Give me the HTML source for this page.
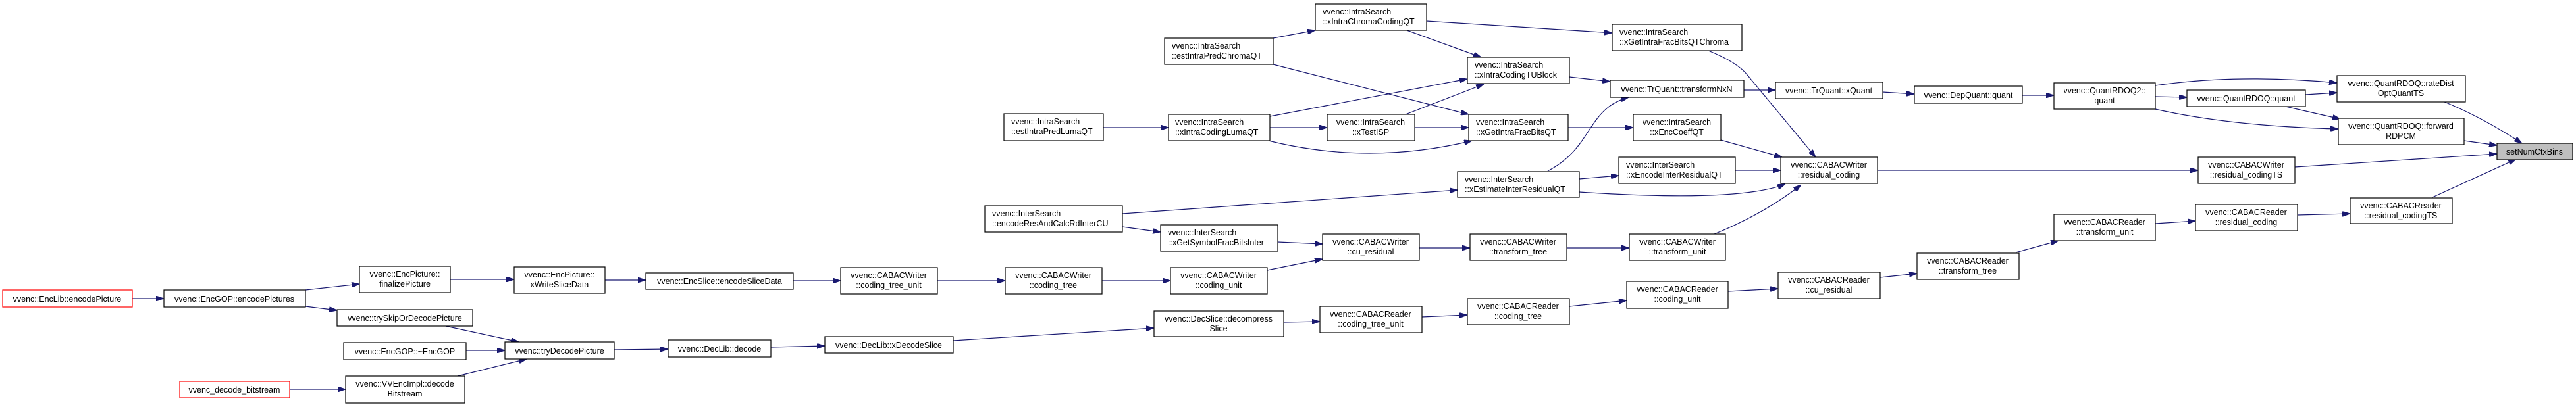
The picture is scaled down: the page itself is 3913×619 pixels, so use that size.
<!DOCTYPE html>
<html><head><meta charset="utf-8"><style>
html,body{margin:0;padding:0;background:#fff;}
svg{display:block;}
text{font-family:"Liberation Sans",Arial,sans-serif;font-size:12.5px;fill:#000;}
.n{fill:#fff;stroke:#000;stroke-width:1.2;}
.r{fill:#fff;stroke:#ff0000;stroke-width:1.2;}
.e{fill:none;stroke:#191970;stroke-width:1.2;}
</style></head><body>
<svg width="3913" height="619" viewBox="0 0 3913 619" xmlns="http://www.w3.org/2000/svg">
<defs><marker id="a" markerWidth="12" markerHeight="8" refX="12" refY="4" orient="auto" markerUnits="userSpaceOnUse"><path d="M0,0 L12,4 L0,8 z" fill="#191970" stroke="#191970"/></marker></defs>
<g marker-end="url(#a)">
<path class="e" d="M201,454 L249,454"/>
<path class="e" d="M464,441 L546,432"/>
<path class="e" d="M464,466 L512,472"/>
<path class="e" d="M684,425 L781,425"/>
<path class="e" d="M919,426 L981,426"/>
<path class="e" d="M1205,427 L1277,427"/>
<path class="e" d="M1424,427 L1527,427"/>
<path class="e" d="M1674,427 L1778,427"/>
<path class="e" d="M1925,411 L2009,394"/>
<path class="e" d="M1941,368 L2009,371"/>
<path class="e" d="M2156,377 L2233,377"/>
<path class="e" d="M2380,377 L2475,377"/>
<path class="e" d="M2604,356 Q2680,325 2736,281"/>
<path class="e" d="M677,496 L788,520"/>
<path class="e" d="M708,533 L767,533"/>
<path class="e" d="M695,572 L800,546"/>
<path class="e" d="M440,592 L525,592"/>
<path class="e" d="M933,532 L1015,531"/>
<path class="e" d="M1171,528 L1253,526"/>
<path class="e" d="M1448,518 L1753,499"/>
<path class="e" d="M1950,490 L2005,489"/>
<path class="e" d="M2160,482 L2229,479"/>
<path class="e" d="M2384,466 L2471,457"/>
<path class="e" d="M2625,443 L2701,439"/>
<path class="e" d="M2856,422 L2912,416"/>
<path class="e" d="M3062,384 L3127,366"/>
<path class="e" d="M3274,340 L3335,336"/>
<path class="e" d="M3490,327 L3570,325"/>
<path class="e" d="M3695,300 L3822,242"/>
<path class="e" d="M3486,254 L3793,234"/>
<path class="e" d="M3743,214 L3793,221"/>
<path class="e" d="M3713,155 Q3770,178 3831,218"/>
<path class="e" d="M2852,259 L3339,259"/>
<path class="e" d="M3274,130 Q3400,112 3550,126"/>
<path class="e" d="M3274,147 L3322,148"/>
<path class="e" d="M3274,166 Q3390,192 3552,196"/>
<path class="e" d="M3502,144 L3550,141"/>
<path class="e" d="M3472,162 L3555,181"/>
<path class="e" d="M2649,137 L2697,137"/>
<path class="e" d="M2860,140 L2908,143"/>
<path class="e" d="M3072,145 L3120,145"/>
<path class="e" d="M2595,77 Q2640,95 2655,115 L2758,239"/>
<path class="e" d="M2614,213 L2707,239"/>
<path class="e" d="M2636,259 L2705,259"/>
<path class="e" d="M2399,292 Q2640,308 2712,280"/>
<path class="e" d="M2351,260 C2420,225 2410,165 2474,148"/>
<path class="e" d="M2399,272 L2459,267"/>
<path class="e" d="M1705,325 L2214,289"/>
<path class="e" d="M1705,345 L1763,353"/>
<path class="e" d="M1934,58 L1998,46"/>
<path class="e" d="M1934,98 L2231,174"/>
<path class="e" d="M2137,46 L2250,87"/>
<path class="e" d="M2167,32 L2449,50"/>
<path class="e" d="M1676,194 L1775,194"/>
<path class="e" d="M1929,177 L2229,120"/>
<path class="e" d="M1929,194 L2016,194"/>
<path class="e" d="M1927,214 Q2080,252 2236,214"/>
<path class="e" d="M2135,174 L2254,128"/>
<path class="e" d="M2149,194 L2231,194"/>
<path class="e" d="M2384,117 L2446,124"/>
<path class="e" d="M2382,194 L2481,194"/>
</g>

<!-- nodes -->
<rect class="r" x="4" y="441" width="197" height="26"/><text x="102" y="459" text-anchor="middle">vvenc::EncLib::encodePicture</text>
<rect class="n" x="249" y="441" width="215" height="26"/><text x="356" y="459" text-anchor="middle">vvenc::EncGOP::encodePictures</text>
<rect class="n" x="546" y="405" width="138" height="40"/><text x="615" y="421" text-anchor="middle">vvenc::EncPicture::</text><text x="615" y="436" text-anchor="middle">finalizePicture</text>
<rect class="n" x="512" y="471" width="206" height="25"/><text x="615" y="488" text-anchor="middle">vvenc::trySkipOrDecodePicture</text>
<rect class="n" x="522" y="521" width="186" height="26"/><text x="615" y="539" text-anchor="middle">vvenc::EncGOP::~EncGOP</text>
<rect class="r" x="273" y="580" width="167" height="25"/><text x="356" y="597" text-anchor="middle">vvenc_decode_bitstream</text>
<rect class="n" x="525" y="572" width="181" height="41"/><text x="615" y="588" text-anchor="middle">vvenc::VVEncImpl::decode</text><text x="615" y="603" text-anchor="middle">Bitstream</text>
<rect class="n" x="781" y="406" width="138" height="40"/><text x="850" y="422" text-anchor="middle">vvenc::EncPicture::</text><text x="850" y="437" text-anchor="middle">xWriteSliceData</text>
<rect class="n" x="981" y="415" width="224" height="25"/><text x="1093" y="432" text-anchor="middle">vvenc::EncSlice::encodeSliceData</text>
<rect class="n" x="1277" y="407" width="147" height="40"/><text x="1350" y="423" text-anchor="middle">vvenc::CABACWriter</text><text x="1350" y="438" text-anchor="middle">::coding_tree_unit</text>
<rect class="n" x="767" y="520" width="166" height="26"/><text x="850" y="538" text-anchor="middle">vvenc::tryDecodePicture</text>
<rect class="n" x="1015" y="517" width="156" height="26"/><text x="1093" y="535" text-anchor="middle">vvenc::DecLib::decode</text>
<rect class="n" x="1253" y="512" width="195" height="25"/><text x="1350" y="529" text-anchor="middle">vvenc::DecLib::xDecodeSlice</text>

<rect class="n" x="1769" y="58" width="165" height="40"/><text x="1780" y="74">vvenc::IntraSearch</text><text x="1780" y="89">::estIntraPredChromaQT</text>
<rect class="n" x="1525" y="173" width="151" height="41"/><text x="1536" y="189">vvenc::IntraSearch</text><text x="1536" y="204">::estIntraPredLumaQT</text>
<rect class="n" x="1775" y="174" width="154" height="40"/><text x="1785" y="190">vvenc::IntraSearch</text><text x="1785" y="205">::xIntraCodingLumaQT</text>
<rect class="n" x="1496" y="313" width="209" height="40"/><text x="1507" y="329">vvenc::InterSearch</text><text x="1507" y="344">::encodeResAndCalcRdInterCU</text>
<rect class="n" x="1763" y="342" width="178" height="40"/><text x="1774" y="358">vvenc::InterSearch</text><text x="1774" y="373">::xGetSymbolFracBitsInter</text>
<rect class="n" x="1527" y="407" width="147" height="40"/><text x="1600" y="423" text-anchor="middle">vvenc::CABACWriter</text><text x="1600" y="438" text-anchor="middle">::coding_tree</text>
<rect class="n" x="1778" y="407" width="147" height="40"/><text x="1851" y="423" text-anchor="middle">vvenc::CABACWriter</text><text x="1851" y="438" text-anchor="middle">::coding_unit</text>
<rect class="n" x="1753" y="473" width="197" height="39"/><text x="1851" y="489" text-anchor="middle">vvenc::DecSlice::decompress</text><text x="1851" y="504" text-anchor="middle">Slice</text>

<rect class="n" x="1998" y="6" width="169" height="40"/><text x="2009" y="22">vvenc::IntraSearch</text><text x="2009" y="37">::xIntraChromaCodingQT</text>
<rect class="n" x="2449" y="37" width="197" height="40"/><text x="2460" y="53">vvenc::IntraSearch</text><text x="2460" y="68">::xGetIntraFracBitsQTChroma</text>
<rect class="n" x="2229" y="87" width="155" height="40"/><text x="2240" y="103">vvenc::IntraSearch</text><text x="2240" y="118">::xIntraCodingTUBlock</text>
<rect class="n" x="2446" y="122" width="203" height="26"/><text x="2547" y="140" text-anchor="middle">vvenc::TrQuant::transformNxN</text>
<rect class="n" x="2016" y="174" width="133" height="40"/><text x="2082" y="190" text-anchor="middle">vvenc::IntraSearch</text><text x="2082" y="205" text-anchor="middle">::xTestISP</text>
<rect class="n" x="2231" y="174" width="151" height="40"/><text x="2242" y="190">vvenc::IntraSearch</text><text x="2242" y="205">::xGetIntraFracBitsQT</text>
<rect class="n" x="2481" y="174" width="133" height="40"/><text x="2547" y="190" text-anchor="middle">vvenc::IntraSearch</text><text x="2547" y="205" text-anchor="middle">::xEncCoeffQT</text>
<rect class="n" x="2459" y="239" width="177" height="40"/><text x="2470" y="255">vvenc::InterSearch</text><text x="2470" y="270">::xEncodeInterResidualQT</text>
<rect class="n" x="2214" y="261" width="185" height="39"/><text x="2225" y="277">vvenc::InterSearch</text><text x="2225" y="292">::xEstimateInterResidualQT</text>
<rect class="n" x="2009" y="356" width="147" height="40"/><text x="2082" y="372" text-anchor="middle">vvenc::CABACWriter</text><text x="2082" y="387" text-anchor="middle">::cu_residual</text>
<rect class="n" x="2233" y="356" width="147" height="40"/><text x="2306" y="372" text-anchor="middle">vvenc::CABACWriter</text><text x="2306" y="387" text-anchor="middle">::transform_tree</text>
<rect class="n" x="2475" y="356" width="146" height="40"/><text x="2548" y="372" text-anchor="middle">vvenc::CABACWriter</text><text x="2548" y="387" text-anchor="middle">::transform_unit</text>
<rect class="n" x="2471" y="428" width="154" height="41"/><text x="2548" y="444" text-anchor="middle">vvenc::CABACReader</text><text x="2548" y="459" text-anchor="middle">::coding_unit</text>
<rect class="n" x="2005" y="466" width="155" height="40"/><text x="2082" y="482" text-anchor="middle">vvenc::CABACReader</text><text x="2082" y="497" text-anchor="middle">::coding_tree_unit</text>
<rect class="n" x="2229" y="454" width="155" height="40"/><text x="2306" y="470" text-anchor="middle">vvenc::CABACReader</text><text x="2306" y="485" text-anchor="middle">::coding_tree</text>

<rect class="n" x="2697" y="125" width="163" height="25"/><text x="2778" y="142" text-anchor="middle">vvenc::TrQuant::xQuant</text>
<rect class="n" x="2908" y="131" width="164" height="26"/><text x="2990" y="149" text-anchor="middle">vvenc::DepQuant::quant</text>
<rect class="n" x="3120" y="126" width="154" height="40"/><text x="3197" y="142" text-anchor="middle">vvenc::QuantRDOQ2::</text><text x="3197" y="157" text-anchor="middle">quant</text>
<rect class="n" x="2705" y="239" width="147" height="40"/><text x="2778" y="255" text-anchor="middle">vvenc::CABACWriter</text><text x="2778" y="270" text-anchor="middle">::residual_coding</text>
<rect class="n" x="3120" y="326" width="154" height="40"/><text x="3197" y="342" text-anchor="middle">vvenc::CABACReader</text><text x="3197" y="357" text-anchor="middle">::transform_unit</text>
<rect class="n" x="2912" y="385" width="155" height="40"/><text x="2989" y="401" text-anchor="middle">vvenc::CABACReader</text><text x="2989" y="416" text-anchor="middle">::transform_tree</text>
<rect class="n" x="2701" y="414" width="155" height="40"/><text x="2778" y="430" text-anchor="middle">vvenc::CABACReader</text><text x="2778" y="445" text-anchor="middle">::cu_residual</text>

<rect class="n" x="3550" y="115" width="195" height="40"/><text x="3647" y="131" text-anchor="middle">vvenc::QuantRDOQ::rateDist</text><text x="3647" y="146" text-anchor="middle">OptQuantTS</text>
<rect class="n" x="3322" y="137" width="180" height="25"/><text x="3412" y="154" text-anchor="middle">vvenc::QuantRDOQ::quant</text>
<rect class="n" x="3552" y="180" width="191" height="40"/><text x="3647" y="196" text-anchor="middle">vvenc::QuantRDOQ::forward</text><text x="3647" y="211" text-anchor="middle">RDPCM</text>
<rect x="3793" y="218" width="115" height="25" fill="#bfbfbf" stroke="#000" stroke-width="1.2"/><text x="3850" y="235" text-anchor="middle">setNumCtxBins</text>
<rect class="n" x="3339" y="239" width="147" height="40"/><text x="3412" y="255" text-anchor="middle">vvenc::CABACWriter</text><text x="3412" y="270" text-anchor="middle">::residual_codingTS</text>
<rect class="n" x="3335" y="311" width="155" height="40"/><text x="3412" y="327" text-anchor="middle">vvenc::CABACReader</text><text x="3412" y="342" text-anchor="middle">::residual_coding</text>
<rect class="n" x="3570" y="301" width="155" height="39"/><text x="3647" y="317" text-anchor="middle">vvenc::CABACReader</text><text x="3647" y="332" text-anchor="middle">::residual_codingTS</text>
</svg>
</body></html>
